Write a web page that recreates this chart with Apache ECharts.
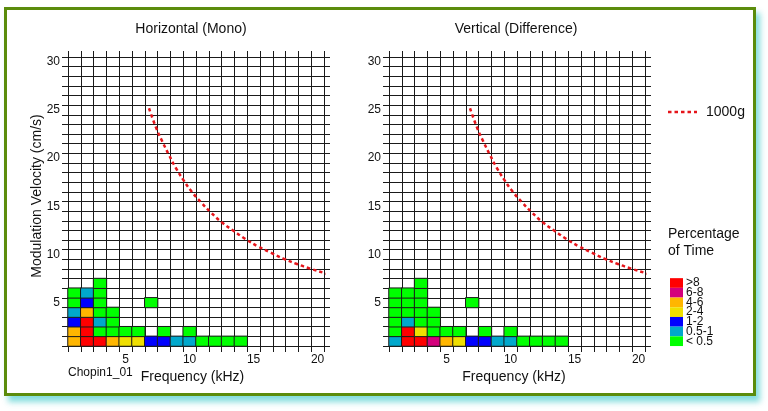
<!DOCTYPE html>
<html>
<head>
<meta charset="utf-8">
<script src="https://cdn.jsdelivr.net/npm/echarts@6/dist/echarts.min.js"></script>
<style>
html,body{margin:0;padding:0;background:#fff;}
#frame{position:absolute;left:4px;top:7px;width:746px;height:383px;border:3px solid #5b8c0c;background:#fff;box-shadow:4px 6px 6px rgba(110,215,215,0.85);}
#chart{position:absolute;left:0;top:0;width:768px;height:411px;}
</style>
</head>
<body>
<div id="frame"></div>
<div id="chart"></div>
<script>
// Categories (cell centres)
const freqCats = [1,2,3,4,5,6,7,8,9,10,11,12,13,14,15,16,17,18,19,20];
const velCats = [1,2,3,4,5,6,7,8,9,10,11,12,13,14,15,16,17,18,19,20,21,22,23,24,25,26,27,28,29,30];
const freqTickLabels = [5,10,15,20];
const velTickLabels = [5,10,15,20,25,30];

// Percentage of time, estimated by colour class; rows are velocity 1..7 cm/s, columns frequency 1.. kHz
const monoV1 = [5,9,9,5,3,3,1.5,1.5,0.75,0.75,0.25,0.25,0.25,0.25];
const monoV2 = [5,9,0.25,0.25,0.25,0.25,null,0.25,null,0.25];
const monoV3 = [1.5,9,0.75,0.25];
const monoV4 = [0.75,5,0.25,0.25];
const monoV5 = [0.25,1.5,0.25,null,null,null,0.25];
const monoV6 = [0.25,0.75,0.25];
const monoV7 = [null,null,0.25];

const diffV1 = [0.75,9,9,7,5,3,1.5,1.5,0.75,0.75,0.25,0.25,0.25,0.25];
const diffV2 = [0.25,9,3,0.25,0.25,0.25,null,0.25,null,0.25];
const diffV3 = [0.25,0.75,0.25,0.25];
const diffV4 = [0.25,0.25,0.25,0.25];
const diffV5 = [0.25,0.25,0.25,null,null,null,0.25];
const diffV6 = [0.25,0.25,0.25];
const diffV7 = [null,null,0.25];

// 1000g limit curve (frequency kHz, velocity cm/s)
const curveFreq = [6.83,7.40,7.87,8.39,8.91,9.51,10.16,10.89,11.65,12.51,13.45,14.36,15.32,16.34,17.33,18.39,19.43,20.53,20.9];
const curveVel  = [25.18,23.10,21.72,20.33,19.02,17.74,16.53,15.42,14.38,13.34,12.44,11.61,10.85,10.19,9.57,9.01,8.53,8.08,7.95];

const classLabels = ['>8','6-8','4-6','2-4','1-2','0.5-1','< 0.5'];
const classColors = ['#ff0000','#d4007c','#ffb600','#efdf00','#0000ff','#00a8cc','#00ff00'];

function toCells(rows){
  const out = [];
  rows.forEach((row, vi) => row.forEach((p, fi) => { if (p !== null) out.push([fi, vi, p]); }));
  return out;
}
const monoCells = toCells([monoV1,monoV2,monoV3,monoV4,monoV5,monoV6,monoV7]);
const diffCells = toCells([diffV1,diffV2,diffV3,diffV4,diffV5,diffV6,diffV7]);
const curve = curveFreq.map((f,i)=>[f, curveVel[i]]);

const FONT = 'Liberation Sans, Arial, Helvetica, sans-serif';
const LINE = '#1a1a1a';

function catX(pos, showLabel, gi){
  return {
    type:'category', gridIndex:gi, position:pos, data:freqCats.map(String), boundaryGap:true,
    axisLine:{show:true, lineStyle:{color:LINE,width:1}},
    axisTick:{show:true, interval:0, length:6, inside:false, lineStyle:{color:LINE,width:1}},
    axisLabel:{show:showLabel, interval:(i,v)=>freqTickLabels.includes(Number(v)), color:'#111', fontSize:12, fontFamily:FONT, margin:8},
    splitLine:{show:true, interval:0, lineStyle:{color:LINE,width:1}}
  };
}
function catY(pos, showLabel, gi){
  return {
    type:'category', gridIndex:gi, position:pos, data:velCats.map(String), boundaryGap:true,
    axisLine:{show:true, lineStyle:{color:LINE,width:1}},
    axisTick:{show:true, interval:0, length:6, inside:false, lineStyle:{color:LINE,width:1}},
    axisLabel:{show:showLabel, interval:(i,v)=>velTickLabels.includes(Number(v)), color:'#111', fontSize:12, fontFamily:FONT, margin:8},
    splitLine:{show:true, interval:0, lineStyle:{color:LINE,width:1}}
  };
}
function valX(gi){ return {type:'value', gridIndex:gi, min:0.5, max:20.5, show:false}; }
function valY(gi){ return {type:'value', gridIndex:gi, min:0.5, max:30.5, show:false}; }

const chart = echarts.init(document.getElementById('chart'), null, {renderer:'canvas'});
const option = {
  backgroundColor:'transparent',
  animation:false,
  grid:[
    {left:68, top:57, width:256, height:289},
    {left:389, top:57, width:256, height:289}
  ],
  xAxis:[catX('bottom',true,0), catX('top',false,0), valX(0), catX('bottom',true,1), catX('top',false,1), valX(1)],
  yAxis:[catY('left',true,0), catY('right',false,0), valY(0), catY('left',true,1), catY('right',false,1), valY(1)],
  visualMap:{
    type:'piecewise', seriesIndex:[0,1], orient:'vertical', left:670, top:277, align:'left',
    itemWidth:13, itemHeight:9.7, itemGap:-2.3, itemSymbol:'rect', textGap:3, padding:0,
    selectedMode:false, hoverLink:false,
    textStyle:{color:'#111', fontSize:12, fontFamily:FONT},
    pieces:[
      {gt:8, label:classLabels[0], color:classColors[0]},
      {gt:6, lte:8, label:classLabels[1], color:classColors[1]},
      {gt:4, lte:6, label:classLabels[2], color:classColors[2]},
      {gt:2, lte:4, label:classLabels[3], color:classColors[3]},
      {gt:1, lte:2, label:classLabels[4], color:classColors[4]},
      {gt:0.5, lte:1, label:classLabels[5], color:classColors[5]},
      {lte:0.5, label:classLabels[6], color:classColors[6]}
    ]
  },
  series:[
    {type:'heatmap', xAxisIndex:0, yAxisIndex:0, data:monoCells, itemStyle:{borderColor:LINE, borderWidth:1}},
    {type:'heatmap', xAxisIndex:3, yAxisIndex:3, data:diffCells, itemStyle:{borderColor:LINE, borderWidth:1}},
    {type:'line', name:'1000g', xAxisIndex:2, yAxisIndex:2, data:curve, symbol:'none', smooth:true, clip:false,
      lineStyle:{color:'#e5141a', width:2.5, type:[3.5,3]}, z:5},
    {type:'line', name:'1000g', xAxisIndex:5, yAxisIndex:5, data:curve, symbol:'none', smooth:true, clip:false,
      lineStyle:{color:'#e5141a', width:2.5, type:[3.5,3]}, z:5}
  ],
  graphic:[
    {type:'text', x:191, y:29, style:{text:'Horizontal (Mono)', fill:'#111', font:'14px '+FONT, textAlign:'center', textVerticalAlign:'middle'}},
    {type:'text', x:516, y:29, style:{text:'Vertical (Difference)', fill:'#111', font:'14px '+FONT, textAlign:'center', textVerticalAlign:'middle'}},
    {type:'text', x:37, y:196, rotation:Math.PI/2, style:{text:'Modulation Velocity (cm/s)', fill:'#111', font:'14px '+FONT, textAlign:'center', textVerticalAlign:'middle'}},
    {type:'text', x:192.5, y:377, style:{text:'Frequency (kHz)', fill:'#111', font:'14px '+FONT, textAlign:'center', textVerticalAlign:'middle'}},
    {type:'text', x:514, y:377, style:{text:'Frequency (kHz)', fill:'#111', font:'14px '+FONT, textAlign:'center', textVerticalAlign:'middle'}},
    {type:'text', x:68, y:373, style:{text:'Chopin1_01', fill:'#111', font:'12px '+FONT, textAlign:'left', textVerticalAlign:'middle'}},
    {type:'line', shape:{x1:668, y1:112, x2:697, y2:112}, style:{stroke:'#e5141a', lineWidth:2.5, lineDash:[3.5,3]}},
    {type:'text', x:706, y:112, style:{text:'1000g', fill:'#111', font:'14px '+FONT, textAlign:'left', textVerticalAlign:'middle'}},
    {type:'text', x:668, y:234, style:{text:'Percentage', fill:'#111', font:'14px '+FONT, textAlign:'left', textVerticalAlign:'middle'}},
    {type:'text', x:668, y:251, style:{text:'of Time', fill:'#111', font:'14px '+FONT, textAlign:'left', textVerticalAlign:'middle'}}
  ]
};
chart.setOption(option);
</script>
</body>
</html>
